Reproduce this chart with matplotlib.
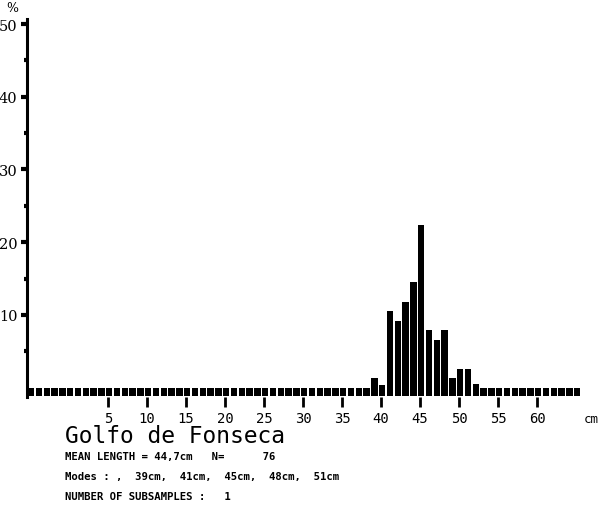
import numpy as np
import matplotlib
matplotlib.use("Agg")
import matplotlib.pyplot as plt

# length classes (cm) and percentage per class
classes = np.arange(-5, 66)
peak_cm = [39, 40, 41, 42, 43, 44, 45, 46, 47, 48, 49, 50, 51, 52]
peak_pct = [1.3, 0.3, 10.5, 9.2, 11.8, 14.5, 22.4, 7.9, 6.6, 7.9, 1.3, 2.6, 2.6, 0.5]

x_ticks = [5, 10, 15, 20, 25, 30, 35, 40, 45, 50, 55, 60]
y_ticks = [10, 20, 30, 40, 50]
y_minor = [5, 15, 25, 35, 45]

title = "Golfo de Fonseca"
info_lines = [
    "MEAN LENGTH = 44,7cm   N=      76",
    "Modes : ,  39cm,  41cm,  45cm,  48cm,  51cm",
    "NUMBER OF SUBSAMPLES :   1",
]

W, H = 599, 506
fig = plt.figure(figsize=(W / 100, H / 100), dpi=100)
ax = fig.add_axes([27 / W, (H - 398) / H, 558 / W, 378 / H])

pct = np.zeros(len(classes))
for c, p in zip(peak_cm, peak_pct):
    pct[classes == c] = p

base = 1.2  # little block drawn under every class
ax.bar(classes + 0.15, pct + base, bottom=-base, width=0.82, color="black")

ax.set_xlim(-5.4, 66.15)
ax.set_ylim(-1.3, 50.7)

ax.set_xticks(x_ticks)
ax.set_xticklabels([str(t) for t in x_ticks])
ax.set_yticks(y_ticks)
ax.set_yticks(y_minor, minor=True)
ax.set_yticklabels([str(t) for t in y_ticks])

for s in ["top", "right", "bottom"]:
    ax.spines[s].set_visible(False)
ax.spines["left"].set_linewidth(2.2)

ax.tick_params(axis="x", direction="out", length=7, width=2, pad=3,
               labelsize=10, labelfontfamily="DejaVu Sans Mono")
ax.tick_params(axis="y", which="major", direction="out", length=4, width=3,
               pad=3, labelsize=10.5, labelfontfamily="DejaVu Serif")
ax.tick_params(axis="y", which="minor", direction="out", length=2, width=3)

fig.text(12 / W, 1 - 9 / H, "%", fontsize=9, family="DejaVu Serif",
         ha="center", va="center")
fig.text(591 / W, 1 - 420 / H, "cm", fontsize=9, family="DejaVu Sans Mono",
         ha="center", va="center")

fig.text(65 / W, 1 - 437 / H, title, fontsize=16.5, family="DejaVu Sans Mono",
         ha="left", va="center")
for i, line in enumerate(info_lines):
    fig.text(65 / W, 1 - (457 + 20 * i) / H, line, fontsize=7.7,
             family="DejaVu Sans Mono", weight="bold", ha="left", va="center")

fig.savefig("out.png", dpi=100)
